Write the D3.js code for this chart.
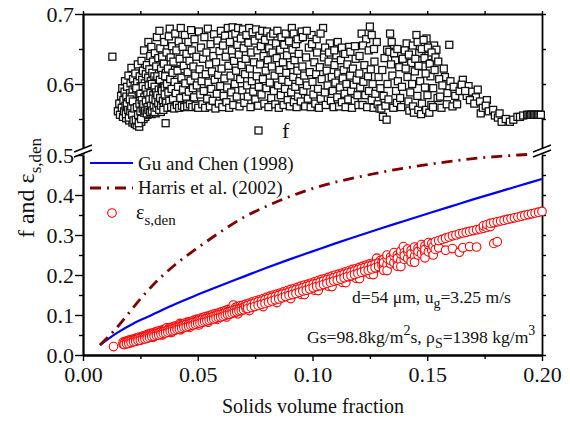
<!DOCTYPE html>
<html>
<head>
<meta charset="utf-8">
<script src="https://cdn.jsdelivr.net/npm/d3@7"></script>
<style>
body { margin: 0; background: #fff; }
svg text { font-family: "Liberation Serif", "Times New Roman", serif; fill: #111; }
</style>
</head>
<body>
<script>
const w = 570;
const h = 421;
const serif = '"Liberation Serif", "Times New Roman", serif';

// tick values
const xTicks = [0, 0.05, 0.10, 0.15, 0.20];
const xMinor = [0.025, 0.075, 0.125, 0.175];
const yLowTicks = [0, 0.1, 0.2, 0.3, 0.4, 0.5];
const yLowMinor = [0.05, 0.15, 0.25, 0.35, 0.45];
const yTopTicks = [0.6, 0.7];
const yTopMinor = [0.55, 0.65];

// Gu and Chen (1998)
const guX = [0.0074, 0.015, 0.022, 0.03, 0.04, 0.05, 0.06, 0.07, 0.08, 0.09, 0.10, 0.11, 0.12, 0.13, 0.14, 0.15, 0.16, 0.17, 0.18, 0.19, 0.20];
const guY = [0.025, 0.056, 0.079, 0.100, 0.127, 0.151, 0.174, 0.196, 0.218, 0.239, 0.259, 0.279, 0.298, 0.317, 0.335, 0.353, 0.371, 0.389, 0.406, 0.423, 0.440];

// Harris et al. (2002)
const harrisX = [0.0074, 0.015, 0.02, 0.025, 0.03, 0.035, 0.04, 0.05, 0.06, 0.07, 0.08, 0.09, 0.10, 0.11, 0.12, 0.13, 0.14, 0.15, 0.16, 0.17, 0.18, 0.19, 0.196];
const harrisY = [0.025, 0.070, 0.105, 0.140, 0.172, 0.200, 0.225, 0.268, 0.308, 0.344, 0.372, 0.396, 0.416, 0.432, 0.445, 0.457, 0.467, 0.476, 0.484, 0.491, 0.496, 0.500, 0.502];

// f (top panel), [x, f]
const fPoints = [
  [0.0128,0.639],
  [0.0152,0.561],[0.0158,0.572],[0.0161,0.556],[0.0166,0.583],[0.0169,0.566],[0.0171,0.594],[0.0174,0.553],[0.0176,0.577],[0.0179,0.561],[0.0181,0.589],
  [0.0183,0.604],[0.0185,0.569],[0.0188,0.551],[0.0189,0.582],[0.0192,0.596],[0.0194,0.559],[0.0196,0.574],[0.0198,0.612],[0.0201,0.548],[0.0203,0.566],
  [0.0205,0.587],[0.0207,0.601],[0.0209,0.556],[0.0211,0.623],[0.0213,0.571],[0.0215,0.545],[0.0216,0.592],[0.0218,0.607],[0.0219,0.562],[0.0221,0.579],
  [0.0223,0.551],[0.0225,0.598],[0.0226,0.543],[0.0228,0.615],[0.0229,0.568],[0.0231,0.586],[0.0233,0.557],[0.0234,0.541],[0.0236,0.603],[0.0237,0.575],
  [0.0239,0.628],[0.0241,0.548],[0.0242,0.591],[0.0244,0.562],[0.0245,0.539],[0.0247,0.611],[0.0248,0.58],[0.0249,0.553],[0.0251,0.597],[0.0252,0.57],
  [0.0254,0.546],[0.0255,0.633],[0.0257,0.584],[0.0258,0.606],[0.0259,0.559],[0.0261,0.619],[0.0262,0.573],[0.0264,0.55],[0.0265,0.592],[0.0266,0.648],
  [0.0268,0.564],[0.0269,0.601],[0.0271,0.578],[0.0272,0.553],[0.0274,0.614],[0.0275,0.587],[0.0276,0.566],[0.0278,0.627],[0.0279,0.597],[0.0281,0.556],
  [0.0282,0.572],[0.0284,0.609],[0.0285,0.66],[0.0287,0.583],[0.0288,0.559],[0.0289,0.621],[0.029,0.594],[0.0292,0.568],[0.0293,0.64],[0.0295,0.604],
  [0.0296,0.578],[0.0298,0.653],[0.0299,0.557],[0.0301,0.589],[0.0302,0.616],[0.0304,0.57],[0.0305,0.632],[0.0307,0.598],[0.0308,0.561],[0.031,0.582],
  [0.0311,0.611],[0.0313,0.644],[0.0314,0.574],[0.0316,0.592],[0.0317,0.558],[0.0319,0.625],[0.032,0.605],[0.0322,0.667],[0.0323,0.579],[0.0325,0.563],
  [0.0326,0.6],[0.0328,0.637],[0.0329,0.586],[0.0331,0.615],[0.0333,0.676],[0.0334,0.569],[0.0336,0.595],[0.0337,0.651],[0.0339,0.56],[0.034,0.622],
  [0.0342,0.583],[0.0344,0.608],[0.0345,0.639],[0.0347,0.572],[0.0348,0.597],
  [0.0193,0.566],[0.0202,0.559],[0.0212,0.582],[0.0222,0.571],[0.0227,0.553],[0.0232,0.594],[0.0238,0.564],[0.0243,0.576],[0.0246,0.558],[0.025,0.586],
  [0.0256,0.566],[0.026,0.597],[0.0263,0.556],[0.0267,0.581],[0.027,0.569],[0.0273,0.593],[0.0277,0.561],[0.028,0.585],[0.0283,0.574],[0.0286,0.598],
  [0.0291,0.563],[0.0294,0.587],[0.0297,0.571],[0.03,0.6],[0.0303,0.566],[0.0306,0.584],[0.0309,0.575],[0.0312,0.596],[0.0315,0.565],[0.0318,0.588],
  [0.0321,0.571],[0.0324,0.611],[0.0327,0.568],[0.033,0.592],[0.0332,0.578],[0.0335,0.606],[0.0338,0.573],[0.0341,0.59],[0.0343,0.566],[0.0346,0.613],
  [0.0349,0.581],[0.0353,0.597],[0.0357,0.572],[0.0361,0.616],[0.0365,0.584],[0.0369,0.596],[0.0373,0.57],[0.0377,0.608],[0.0381,0.583],[0.0385,0.598],
  [0.0389,0.572],[0.0393,0.62],[0.0398,0.586],[0.0403,0.575],[0.0408,0.61],[0.0413,0.582],[0.0418,0.598],[0.0423,0.571],[0.0428,0.621],[0.0433,0.588],
  [0.0438,0.6],[0.0443,0.575],
  [0.0187,0.557],[0.0191,0.571],[0.0197,0.563],[0.02,0.552],[0.0204,0.578],[0.0206,0.561],[0.021,0.568],[0.0214,0.556],[0.0217,0.575],[0.022,0.548],
  [0.0224,0.565],[0.023,0.549],[0.0235,0.567],[0.024,0.556],[0.0243,0.544],[0.0246,0.572],[0.025,0.561],[0.0253,0.55],[0.0256,0.577],[0.026,0.565],
  [0.0263,0.571],[0.0267,0.559],[0.0271,0.562],[0.0274,0.575],[0.0278,0.558],[0.0281,0.567],[0.0285,0.563],[0.0289,0.578],[0.0292,0.56],[0.0296,0.569],
  [0.03,0.562],[0.0304,0.579],[0.0308,0.568],[0.0312,0.56],[0.0316,0.577],[0.032,0.566],[0.0324,0.584],[0.0328,0.572],[0.0332,0.563],[0.0336,0.58],
  [0.034,0.569],[0.0344,0.59],[0.0348,0.576],[0.0352,0.567],[0.0356,0.595],[0.036,0.579],[0.0364,0.569],[0.0368,0.588],
  [0.035,0.563],[0.0352,0.629],[0.0354,0.66],[0.0356,0.585],[0.0358,0.611],[0.036,0.544],[0.0362,0.573],[0.0364,0.645],[0.0366,0.6],[0.0368,0.566],
  [0.037,0.622],[0.0372,0.588],[0.0374,0.668],[0.0376,0.576],[0.0378,0.679],[0.038,0.607],[0.0382,0.638],[0.0384,0.567],[0.0386,0.593],[0.0388,0.654],
  [0.039,0.616],[0.0392,0.579],[0.0394,0.632],[0.0397,0.565],[0.0399,0.603],[0.0402,0.672],[0.0404,0.587],[0.0407,0.648],[0.0409,0.57],[0.0412,0.619],
  [0.0414,0.596],[0.0417,0.661],[0.0419,0.566],[0.0421,0.636],[0.0424,0.58],[0.0426,0.68],[0.0429,0.609],[0.0431,0.569],[0.0434,0.653],[0.0436,0.592],
  [0.0439,0.626],[0.0441,0.567],[0.0444,0.67],[0.0446,0.601],[0.0449,0.582],[0.0451,0.643],[0.0454,0.568],[0.0456,0.617],[0.0459,0.66],[0.0461,0.589],
  [0.0464,0.633],[0.0466,0.571],[0.0469,0.605],[0.0471,0.677],[0.0474,0.648],[0.0476,0.567],[0.0479,0.594],[0.0481,0.625],[0.0484,0.581],[0.0486,0.664],
  [0.0489,0.612],[0.0491,0.569],[0.0494,0.639],[0.0496,0.598],
  [0.0502,0.566],[0.0505,0.675],[0.0508,0.621],[0.0511,0.585],[0.0514,0.652],[0.0517,0.604],[0.052,0.571],[0.0523,0.636],[0.0526,0.59],[0.0529,0.667],
  [0.0532,0.566],[0.0535,0.614],[0.0538,0.645],[0.0541,0.579],[0.0544,0.679],[0.0547,0.602],[0.055,0.628],[0.0553,0.568],[0.0556,0.657],[0.0559,0.593],
  [0.0562,0.618],[0.0565,0.576],[0.0568,0.64],[0.0571,0.671],[0.0574,0.606],[0.0577,0.565],[0.058,0.631],[0.0583,0.586],[0.0586,0.662],[0.0589,0.613],
  [0.0592,0.572],[0.0595,0.647],[0.0598,0.597],[0.0601,0.676],[0.0604,0.622],[0.0607,0.567],[0.061,0.655],[0.0613,0.583],[0.0616,0.608],[0.0619,0.669],
  [0.0622,0.639],[0.0625,0.574],[0.0628,0.595],[0.0631,0.68],[0.0634,0.626],[0.0637,0.566],[0.064,0.66],[0.0643,0.612],[0.0646,0.588],[0.0649,0.648],
  [0.0652,0.681],[0.0655,0.57],[0.0658,0.633],[0.0661,0.6],[0.0664,0.672],[0.0667,0.619],[0.067,0.582],[0.0673,0.656],[0.0676,0.68],[0.0679,0.642],
  [0.0682,0.568],[0.0685,0.607],[0.0688,0.665],[0.0691,0.627],[0.0694,0.591],[0.0697,0.678],[0.07,0.651],[0.0703,0.573],[0.0706,0.614],[0.0709,0.636],
  [0.0712,0.67],[0.0715,0.598],[0.0718,0.582],[0.0721,0.659],[0.0724,0.68],[0.0727,0.622],[0.073,0.567],[0.0733,0.645],[0.0736,0.604],[0.0739,0.674],
  [0.0742,0.589],[0.0745,0.631],[0.0748,0.662],[0.0751,0.578],[0.0754,0.678],[0.0757,0.611],[0.076,0.648],[0.0763,0.569],[0.0766,0.596],[0.0769,0.669],
  [0.0772,0.628],[0.0775,0.654],[0.0778,0.585],[0.0781,0.676],[0.0784,0.607],[0.0787,0.64],[0.079,0.572],[0.0793,0.663],[0.0796,0.619],[0.0799,0.594],
  [0.0802,0.675],[0.0805,0.634],[0.0808,0.567],[0.0811,0.651],[0.0814,0.602],[0.0817,0.668],[0.082,0.58],[0.0823,0.625],[0.0826,0.645],[0.0829,0.672],
  [0.0832,0.59],[0.0835,0.612],[0.0838,0.571],[0.0841,0.658],[0.0844,0.637],[0.0847,0.676],[0.085,0.598],[0.0853,0.566],[0.0856,0.62],[0.0859,0.649],
  [0.0862,0.584],[0.0865,0.667],[0.0868,0.606],[0.0871,0.631],[0.0874,0.57],[0.0877,0.656],[0.088,0.593],[0.0883,0.672],[0.0886,0.616],[0.0889,0.641],
  [0.0892,0.577],[0.0895,0.603],[0.0898,0.661],[0.0901,0.568],[0.0904,0.627],[0.0907,0.588],[0.091,0.68],[0.0913,0.649],[0.0916,0.61],[0.0919,0.574],
  [0.0922,0.634],[0.0925,0.596],[0.0928,0.657],[0.0931,0.567],[0.0934,0.619],[0.0937,0.582],[0.094,0.643],[0.0943,0.604],[0.0946,0.666],[0.0949,0.575],
  [0.0953,0.675],[0.0956,0.625],[0.096,0.59],[0.0964,0.612],[0.0968,0.568],[0.0972,0.638],[0.0976,0.598],[0.098,0.579],[0.0984,0.652],[0.0988,0.617],
  [0.0992,0.567],[0.0996,0.67],[0.1,0.603],[0.1004,0.585],[0.1008,0.631],[0.1012,0.572],[0.1016,0.614],[0.102,0.645],[0.1024,0.593],[0.1028,0.566],
  [0.1032,0.624],[0.1036,0.579],[0.104,0.607],[0.1046,0.68],[0.105,0.638],[0.1054,0.588],[0.1058,0.57],[0.1062,0.619],[0.1066,0.598],[0.107,0.632],
  [0.1076,0.658],[0.108,0.576],[0.1084,0.61],[0.1088,0.59],[0.1092,0.567],[0.1096,0.627],[0.11,0.602],[0.1104,0.641],[0.1108,0.581],[0.1112,0.615],
  [0.1116,0.568],[0.112,0.595],[0.1124,0.634],[0.1128,0.574],[0.1132,0.608],[0.1136,0.62],[0.114,0.586],[0.1144,0.567],[0.1148,0.6],[0.1152,0.628],
  [0.1156,0.578],[0.116,0.653],[0.1164,0.612],[0.1168,0.59],[0.1172,0.566],[0.1176,0.622],[0.118,0.599],[0.1184,0.576],[0.1188,0.636],[0.1192,0.606],
  [0.1196,0.584],[0.12,0.57],[0.1204,0.615],[0.1208,0.595],[0.1214,0.672],[0.1218,0.57],[0.1222,0.603],[0.1226,0.627],[0.123,0.584],[0.1234,0.664],
  [0.1238,0.567],[0.1242,0.611],[0.1246,0.59],[0.125,0.682],[0.1254,0.621],[0.1258,0.577],[0.1262,0.6],[0.1266,0.566],[0.127,0.632],[0.1274,0.586],
  [0.128,0.66],[0.1284,0.571],[0.1288,0.61],[0.1292,0.565],[0.1296,0.594],
  [0.0918,0.672],[0.0935,0.664],[0.0958,0.667],[0.0975,0.676],[0.0998,0.657],[0.1018,0.664],[0.1035,0.672],[0.1055,0.652],[0.1072,0.645],[0.1095,0.648],
  [0.111,0.66],[0.1128,0.652],[0.1142,0.643],[0.1165,0.646],[0.1185,0.654],[0.1205,0.64],[0.122,0.655],[0.1245,0.648],[0.1258,0.67],[0.1268,0.65],
  [0.13,0.565],[0.1304,0.62],[0.1307,0.553],[0.131,0.583],[0.1314,0.637],[0.1318,0.569],[0.1323,0.549],[0.1325,0.649],[0.1327,0.6],[0.1331,0.578],
  [0.1338,0.672],[0.1345,0.66],[0.1348,0.612],[0.1352,0.566],[0.136,0.634],[0.1364,0.59],[0.1368,0.573],[0.1372,0.604],[0.1378,0.624],[0.1382,0.58],
  [0.1386,0.567],[0.139,0.596],[0.141,0.658],[0.1414,0.61],[0.1418,0.575],[0.1422,0.562],[0.1426,0.588],[0.143,0.63],[0.1434,0.6],[0.1438,0.568],
  [0.1442,0.559],[0.1446,0.618],[0.1453,0.67],[0.1457,0.583],[0.1461,0.563],[0.1465,0.644],[0.1469,0.604],[0.1473,0.557],[0.1477,0.572],[0.1481,0.625],
  [0.149,0.595],[0.1495,0.563],[0.1497,0.665],[0.1501,0.584],[0.1505,0.64],[0.1509,0.559],[0.1514,0.611],[0.1518,0.57],[0.1526,0.594],[0.1525,0.567],
  [0.153,0.655],[0.154,0.649],[0.1545,0.58],[0.1556,0.582],[0.1562,0.566],[0.1577,0.61],[0.1585,0.571],[0.1596,0.656],[0.161,0.568],[0.163,0.571],
  [0.1335,0.646],[0.1342,0.628],[0.1356,0.644],[0.137,0.65],[0.1393,0.636],[0.1402,0.648],[0.1406,0.622],[0.142,0.642],[0.1437,0.655],[0.1448,0.636],
  [0.1458,0.66],[0.1462,0.626],[0.1476,0.65],[0.1484,0.663],[0.1488,0.637],[0.1493,0.615],[0.1503,0.652],[0.1511,0.629],[0.1519,0.645],[0.1532,0.62],
  [0.1536,0.638],[0.1548,0.632],[0.1552,0.607],[0.1566,0.598],[0.1572,0.622],[0.1588,0.587],[0.1601,0.604],[0.1615,0.596],[0.1622,0.583],[0.1641,0.59],
  [0.1655,0.606],[0.1672,0.583],[0.168,0.597],[0.1695,0.589],[0.1712,0.581],[0.172,0.592],
  [0.165,0.599],[0.1665,0.59],[0.1686,0.577],[0.1705,0.572],[0.173,0.575],[0.1733,0.558],[0.1742,0.566],[0.176,0.577],[0.1755,0.569],[0.1768,0.561],
  [0.1787,0.563],[0.1795,0.555],[0.1808,0.552],[0.1815,0.558],[0.1824,0.546],[0.1842,0.55],[0.186,0.546],[0.1875,0.549],[0.1893,0.553],[0.1904,0.553],
  [0.1918,0.555],[0.1935,0.556],[0.1941,0.556],[0.1947,0.556],[0.1953,0.556],[0.1959,0.556],[0.1965,0.556],[0.1971,0.556],[0.1977,0.556],[0.1983,0.556],
  [0.1989,0.556],[0.1995,0.556]
];

// eps_s,den (bottom panel): [x, values at that x]
const epsCols = [
  [0.0133,[0.021]],[0.0175,[0.027,0.032]],[0.0185,[0.029,0.034]],[0.0195,[0.03,0.036,0.033]],[0.0205,[0.032,0.038]],
  [0.0215,[0.034,0.039,0.036]],[0.0225,[0.035,0.041]],[0.0235,[0.037,0.043,0.04]],[0.0245,[0.039,0.045]],[0.0255,[0.04,0.046,0.043]],
  [0.0265,[0.042,0.048]],[0.0275,[0.044,0.05,0.047]],[0.0285,[0.045,0.052]],[0.0295,[0.047,0.054,0.05]],[0.0305,[0.049,0.055,0.044]],
  [0.0315,[0.05,0.057,0.053]],[0.0325,[0.052,0.059]],[0.0335,[0.054,0.061,0.057]],[0.0345,[0.055,0.062,0.05]],[0.0355,[0.057,0.064,0.06]],
  [0.0365,[0.059,0.066,0.068]],[0.0375,[0.06,0.067,0.063]],[0.0385,[0.062,0.069,0.056]],[0.0395,[0.064,0.071,0.067]],[0.0405,[0.065,0.073]],
  [0.0415,[0.067,0.074,0.07]],[0.0423,[0.079]],[0.0425,[0.069,0.076,0.063]],[0.0435,[0.07,0.078,0.074]],[0.0445,[0.072,0.08]],
  [0.0455,[0.074,0.082,0.077]],[0.0465,[0.075,0.083,0.069]],[0.0475,[0.077,0.085,0.081]],[0.0485,[0.079,0.087]],[0.0495,[0.08,0.089,0.084]],
  [0.0505,[0.082,0.09,0.075]],[0.0515,[0.084,0.092,0.088]],[0.0525,[0.085,0.094]],[0.0535,[0.087,0.096,0.091]],[0.0545,[0.089,0.097,0.082]],
  [0.0555,[0.09,0.099,0.095]],[0.0565,[0.092,0.101]],[0.0575,[0.094,0.103,0.098]],[0.0585,[0.095,0.104,0.089]],[0.0595,[0.097,0.106,0.102]],
  [0.0605,[0.099,0.108]],[0.0615,[0.1,0.11,0.105]],[0.0625,[0.102,0.112,0.095]],[0.0635,[0.104,0.114,0.109]],[0.0645,[0.106,0.115]],
  [0.0655,[0.107,0.117,0.125]],[0.0665,[0.109,0.119,0.113]],[0.0675,[0.111,0.121,0.103]],[0.0685,[0.112,0.123,0.117]],[0.0695,[0.114,0.124]],
  [0.018,[0.03,0.026]],[0.019,[0.032,0.028]],[0.02,[0.034,0.029]],[0.021,[0.035,0.031]],[0.022,[0.037,0.033]],[0.023,[0.038,0.034]],
  [0.024,[0.04,0.036]],[0.025,[0.042,0.037]],[0.026,[0.043,0.039]],[0.027,[0.045,0.04]],[0.028,[0.047,0.042]],[0.029,[0.048,0.044]],
  [0.03,[0.05,0.046]],[0.031,[0.052,0.047]],[0.032,[0.053,0.049]],[0.033,[0.055,0.05]],[0.034,[0.057,0.052]],[0.035,[0.058,0.054]],
  [0.036,[0.06,0.055]],[0.037,[0.062,0.057]],[0.038,[0.063,0.059]],[0.039,[0.065,0.06]],[0.04,[0.067,0.062]],[0.041,[0.069,0.064]],
  [0.042,[0.07,0.065]],[0.043,[0.072,0.067]],[0.044,[0.074,0.069]],[0.045,[0.076,0.07]],[0.046,[0.077,0.072]],[0.047,[0.079,0.074]],
  [0.048,[0.081,0.075]],[0.049,[0.082,0.077]],[0.05,[0.084,0.079]],[0.051,[0.086,0.08]],[0.052,[0.088,0.082]],[0.053,[0.089,0.084]],
  [0.054,[0.091,0.085]],[0.055,[0.093,0.087]],[0.056,[0.094,0.089]],[0.057,[0.096,0.09]],[0.058,[0.098,0.092]],[0.059,[0.1,0.094]],
  [0.06,[0.101,0.095]],[0.061,[0.103,0.097]],[0.062,[0.105,0.099]],[0.063,[0.107,0.101]],[0.064,[0.108,0.102]],[0.065,[0.11,0.104]],
  [0.066,[0.112,0.106]],[0.067,[0.114,0.108]],[0.068,[0.115,0.11]],[0.069,[0.117,0.111]],[0.07,[0.119,0.113]],
  [0.071,[0.117,0.127,0.122]],[0.0725,[0.12,0.13,0.111]],[0.074,[0.122,0.133,0.127]],[0.0755,[0.125,0.136]],[0.077,[0.128,0.138,0.133]],
  [0.0785,[0.13,0.141,0.121]],[0.08,[0.133,0.144,0.138]],[0.0815,[0.135,0.147]],[0.083,[0.138,0.15,0.144]],[0.0845,[0.141,0.152,0.131]],
  [0.086,[0.143,0.155,0.149]],[0.0875,[0.146,0.158]],[0.089,[0.149,0.161,0.155]],[0.0905,[0.151,0.164,0.141]],[0.092,[0.154,0.166,0.16]],
  [0.0935,[0.156,0.169]],[0.095,[0.159,0.172,0.165,0.152]],[0.0965,[0.162,0.175,0.151]],[0.098,[0.164,0.177,0.171]],[0.0995,[0.167,0.18]],
  [0.101,[0.17,0.183,0.176,0.162]],[0.1025,[0.172,0.186,0.161]],[0.104,[0.175,0.189,0.182]],[0.1055,[0.178,0.191]],[0.107,[0.18,0.194,0.187,0.172]],
  [0.1085,[0.183,0.197,0.171]],[0.11,[0.186,0.2,0.193]],[0.1115,[0.188,0.202]],[0.113,[0.191,0.205,0.198,0.182]],[0.1145,[0.194,0.208,0.181]],
  [0.116,[0.196,0.211,0.204]],[0.1175,[0.199,0.214]],[0.119,[0.202,0.216,0.209,0.192]],[0.1205,[0.204,0.219,0.191]],[0.122,[0.207,0.222,0.215]],
  [0.1235,[0.21,0.225]],[0.125,[0.212,0.228,0.22,0.202]],[0.1265,[0.215,0.23,0.201]],[0.128,[0.218,0.233,0.226,0.242]],[0.1295,[0.22,0.236]],
  [0.0718,[0.124,0.116]],[0.0733,[0.127,0.119]],[0.0748,[0.13,0.121]],[0.0763,[0.133,0.124]],[0.0778,[0.135,0.127]],[0.0793,[0.138,0.129]],
  [0.0808,[0.141,0.132]],[0.0823,[0.144,0.135]],[0.0838,[0.146,0.138]],[0.0853,[0.149,0.14]],[0.0868,[0.152,0.143]],[0.0883,[0.154,0.146]],
  [0.0898,[0.157,0.149]],[0.0913,[0.16,0.151]],[0.0928,[0.163,0.154]],[0.0943,[0.165,0.157]],[0.0958,[0.168,0.16]],[0.0973,[0.171,0.162]],
  [0.0988,[0.174,0.165]],[0.1003,[0.177,0.168]],[0.1018,[0.179,0.171]],[0.1033,[0.182,0.173]],[0.1048,[0.185,0.176]],[0.1063,[0.188,0.179]],
  [0.1078,[0.19,0.182]],[0.1093,[0.193,0.185]],[0.1108,[0.196,0.187]],[0.1123,[0.199,0.19]],[0.1138,[0.202,0.193]],[0.1153,[0.205,0.196]],
  [0.1168,[0.207,0.198]],[0.1183,[0.21,0.201]],[0.1198,[0.213,0.204]],[0.1213,[0.216,0.207]],[0.1228,[0.219,0.21]],[0.1243,[0.222,0.212]],
  [0.1258,[0.224,0.215]],[0.1273,[0.227,0.218]],[0.1288,[0.23,0.221]],[0.1303,[0.233,0.224]],
  [0.131,[0.223,0.239,0.231,0.212]],[0.1325,[0.226,0.242,0.25,0.211]],[0.134,[0.228,0.245,0.237]],[0.1355,[0.231,0.248,0.256]],[0.137,[0.234,0.25,0.242,0.222]],
  [0.1385,[0.236,0.253,0.26,0.221]],[0.1396,[0.271]],[0.14,[0.239,0.256,0.248]],[0.1415,[0.242,0.259,0.265]],[0.143,[0.245,0.262,0.253,0.233]],
  [0.1445,[0.247,0.264,0.27,0.232]],[0.146,[0.25,0.267,0.259]],[0.1475,[0.253,0.27,0.276]],[0.149,[0.255,0.273,0.264,0.243]],[0.1505,[0.258,0.276,0.281]],
  [0.152,[0.261,0.279]],[0.1526,[0.25,0.271]],[0.1535,[0.264,0.283]],[0.155,[0.268,0.286]],[0.1565,[0.289]],
  [0.158,[0.262,0.292]],[0.1595,[0.295]],[0.161,[0.266,0.298]],[0.1625,[0.3]],[0.164,[0.257,0.303]],
  [0.1655,[0.268,0.305]],[0.167,[0.307]],[0.1685,[0.271,0.309]],[0.17,[0.311]],[0.1715,[0.27,0.313]],
  [0.173,[0.315]],[0.1745,[0.317,0.323]],[0.176,[0.319,0.326]],[0.1775,[0.321,0.329]],[0.179,[0.279,0.331]],
  [0.1805,[0.283,0.333]],[0.182,[0.335]],[0.1835,[0.337]],[0.185,[0.339]],[0.1865,[0.341]],
  [0.188,[0.343]],[0.1895,[0.345]],[0.191,[0.347]],[0.1925,[0.349]],[0.194,[0.351]],
  [0.1955,[0.353]],[0.197,[0.355]],[0.1985,[0.357]],[0.2,[0.359]]
];

const epsPoints = epsCols.flatMap((c) => c[1].map((v) => [c[0], v]));

const svg = d3.select('body')
    .append('svg')
    .attr('width', w)
    .attr('height', h)
    .attr('font-family', serif);

const xScale = d3.scaleLinear().domain([0, 0.2]).range([83, 542]);
const yLow = d3.scaleLinear().domain([0, 0.5]).range([355, 155]);
const yTop = d3.scaleLinear().domain([0.5, 0.7]).range([154, 14]);

function styleAxis(g) {
    g.attr('font-family', serif);
    g.select('.domain').attr('stroke', '#000').attr('stroke-width', 1.8);
    g.selectAll('.tick line').attr('stroke', '#000').attr('stroke-width', 1.4);
    g.selectAll('.tick text').attr('font-size', 22).attr('fill', '#111');
}

// bottom axis
svg.append('g')
    .attr('transform', 'translate(0,355)')
    .call(d3.axisBottom(xScale).tickValues(xTicks).tickFormat(d3.format('.2f')).tickSize(6).tickSizeOuter(0).tickPadding(5))
    .call(styleAxis);
svg.append('g')
    .attr('transform', 'translate(0,355)')
    .call(d3.axisBottom(xScale).tickValues(xMinor).tickFormat('').tickSize(4).tickSizeOuter(0))
    .call(styleAxis);

// top axis (mirror)
svg.append('g')
    .attr('transform', 'translate(0,14)')
    .call(d3.axisTop(xScale).tickValues(xTicks.concat(xMinor)).tickFormat('').tickSize(3).tickSizeOuter(0))
    .call(styleAxis);

// left axes
svg.append('g')
    .attr('transform', 'translate(83,0)')
    .call(d3.axisLeft(yLow).tickValues(yLowTicks).tickFormat(d3.format('.1f')).tickSize(8).tickSizeOuter(0).tickPadding(1))
    .call(styleAxis);
svg.append('g')
    .attr('transform', 'translate(83,0)')
    .call(d3.axisLeft(yLow).tickValues(yLowMinor).tickFormat('').tickSize(4).tickSizeOuter(0))
    .call(styleAxis);
svg.append('g')
    .attr('transform', 'translate(83,0)')
    .call(d3.axisLeft(yTop).tickValues(yTopTicks).tickFormat(d3.format('.1f')).tickSize(8).tickSizeOuter(0).tickPadding(1))
    .call(styleAxis);
svg.append('g')
    .attr('transform', 'translate(83,0)')
    .call(d3.axisLeft(yTop).tickValues(yTopMinor).tickFormat('').tickSize(4).tickSizeOuter(0))
    .call(styleAxis);

// right axes (mirror)
svg.append('g')
    .attr('transform', 'translate(542,0)')
    .call(d3.axisRight(yLow).tickValues(yLowTicks.concat(yLowMinor)).tickFormat('').tickSize(4).tickSizeOuter(0))
    .call(styleAxis);
svg.append('g')
    .attr('transform', 'translate(542,0)')
    .call(d3.axisRight(yTop).tickValues(yTopTicks.concat(yTopMinor)).tickFormat('').tickSize(4).tickSizeOuter(0))
    .call(styleAxis);

// break marks
[83, 542].forEach((bx) => {
    svg.append('polygon')
        .attr('points', [[bx - 9, 152], [bx + 9, 145], [bx + 9, 150], [bx - 9, 157]].map((p) => p.join(',')).join(' '))
        .attr('fill', '#fff');
    [0, 5].forEach((off) => {
        svg.append('line')
            .attr('x1', bx - 9).attr('y1', 152 + off)
            .attr('x2', bx + 9).attr('y2', 145 + off)
            .attr('stroke', '#000')
            .attr('stroke-width', 1.4);
    });
});

// f squares
svg.append('g')
    .selectAll('rect')
    .data(fPoints)
    .enter()
    .append('rect')
    .attr('x', (d) => xScale(d[0]) - 3.5)
    .attr('y', (d) => yTop(d[1]) - 3.5)
    .attr('width', 7)
    .attr('height', 7)
    .attr('fill', '#fff')
    .attr('stroke', '#111')
    .attr('stroke-width', 1.3);

// eps circles
svg.append('g')
    .selectAll('circle')
    .data(epsPoints)
    .enter()
    .append('circle')
    .attr('cx', (d) => xScale(d[0]))
    .attr('cy', (d) => yLow(d[1]))
    .attr('r', 4.3)
    .attr('fill', '#fff')
    .attr('stroke', '#ff0000')
    .attr('stroke-width', 1.1);

const line = d3.line().curve(d3.curveMonotoneX);

svg.append('path')
    .attr('d', line(guX.map((x, i) => [xScale(x), yLow(guY[i])])))
    .attr('fill', 'none')
    .attr('stroke', '#0000ff')
    .attr('stroke-width', 2.2);

svg.append('path')
    .attr('d', line(harrisX.map((x, i) => [xScale(x), yLow(harrisY[i])])))
    .attr('fill', 'none')
    .attr('stroke', '#800000')
    .attr('stroke-width', 2.8)
    .attr('stroke-dasharray', '11,6,2,6');

// legend
svg.append('line')
    .attr('x1', 90).attr('x2', 133).attr('y1', 163).attr('y2', 163)
    .attr('stroke', '#0000ff').attr('stroke-width', 2.2);
svg.append('text').attr('x', 138).attr('y', 170).attr('font-size', 19).text('Gu and Chen (1998)');

svg.append('line')
    .attr('x1', 90).attr('x2', 133).attr('y1', 188).attr('y2', 188)
    .attr('stroke', '#800000').attr('stroke-width', 2.8)
    .attr('stroke-dasharray', '11,6,2,6');
svg.append('text').attr('x', 138).attr('y', 194).attr('font-size', 19).text('Harris et al. (2002)');

svg.append('circle')
    .attr('cx', 112).attr('cy', 213).attr('r', 4.3)
    .attr('fill', '#fff').attr('stroke', '#ff0000').attr('stroke-width', 1.1);
const epsLabel = svg.append('text').attr('x', 136).attr('y', 219).attr('font-size', 20);
epsLabel.append('tspan').text('ε');
epsLabel.append('tspan').attr('dy', 6).attr('font-size', 15).text('s,den');

svg.append('rect')
    .attr('x', 255).attr('y', 127).attr('width', 7).attr('height', 7)
    .attr('fill', '#fff').attr('stroke', '#111').attr('stroke-width', 1.3);
svg.append('text').attr('x', 282).attr('y', 138).attr('font-size', 22).text('f');

// annotations
const ann1 = svg.append('text').attr('x', 352).attr('y', 303).attr('font-size', 17.6);
ann1.append('tspan').text('d=54 μm, u');
ann1.append('tspan').attr('dy', 5).attr('font-size', 14).text('g');
ann1.append('tspan').attr('dy', -5).text('=3.25 m/s');

const ann2 = svg.append('text').attr('x', 307).attr('y', 343).attr('font-size', 17.6);
ann2.append('tspan').text('Gs=98.8kg/m');
ann2.append('tspan').attr('dy', -8).attr('font-size', 14).text('2');
ann2.append('tspan').attr('dy', 8).text('s, ρ');
ann2.append('tspan').attr('dy', 5).attr('font-size', 14).text('S');
ann2.append('tspan').attr('dy', -5).text('=1398 kg/m');
ann2.append('tspan').attr('dy', -8).attr('font-size', 14).text('3');

// axis titles
svg.append('text')
    .attr('x', 313).attr('y', 413)
    .attr('text-anchor', 'middle')
    .attr('font-size', 20)
    .text('Solids volume fraction');

const yTitle = svg.append('text')
    .attr('transform', 'translate(34,188) rotate(-90)')
    .attr('text-anchor', 'middle')
    .attr('font-size', 24);
yTitle.append('tspan').text('f and ε');
yTitle.append('tspan').attr('dy', 7).attr('font-size', 17).text('s,den');
</script>
</body>
</html>
